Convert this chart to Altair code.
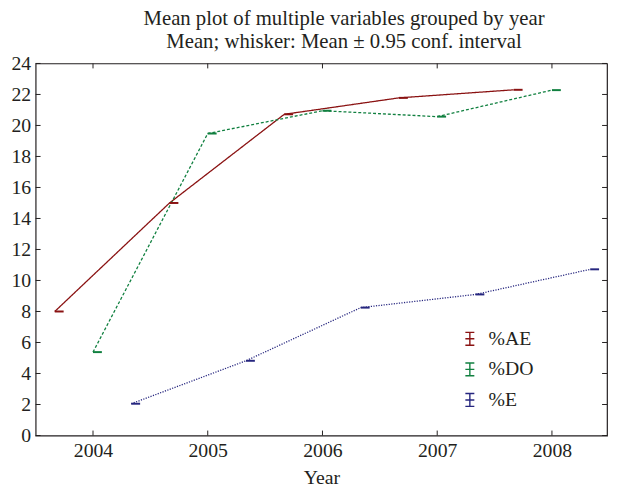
import altair as alt
import pandas as pd

# ---- data ----
years = [2004, 2005, 2006, 2007, 2008]
series = ["%AE", "%DO", "%E"]
offsets = [-1 / 3, 0.0, 1 / 3]          # horizontal offset of each variable within a year
ae = [8.0, 15.0, 20.72, 21.78, 22.3]
do = [5.38, 19.48, 20.95, 20.57, 22.28]
e = [2.05, 4.82, 8.25, 9.1, 10.72]
colors = ["#8a1212", "#118040", "#26267f"]
dashes = [[1, 0], [3, 2], [1.2, 1.4]]

xticks = [2004, 2005, 2006, 2007, 2008]
yticks = list(range(0, 25, 2))

rows = []
for name, off, vals in zip(series, offsets, [ae, do, e]):
    for yr, v in zip(years, vals):
        rows.append({"series": name, "x": yr + off, "y": v})
df = pd.DataFrame(rows)

W, H = 579, 377
FONT = "Liberation Serif"
TXT = "#231f20"

xscale = alt.Scale(domain=[2003.5, 2008.48], nice=False, zero=False)
yscale = alt.Scale(domain=[0, 24], nice=False, zero=True)
cscale = alt.Scale(domain=series, range=colors)

xaxis = alt.Axis(values=xticks, format="d", title="Year", ticks=False, domain=False,
                 grid=False, labelPadding=5, titlePadding=8, labelOverlap=False)
yaxis = alt.Axis(values=yticks, title=None, ticks=False, domain=False, grid=False,
                 labelPadding=5, labelOverlap=False)

line_layers = []
for name, d, col in zip(series, dashes, colors):
    line_layers.append(
        alt.Chart(df).transform_filter(alt.datum.series == name)
        .mark_line(strokeWidth=1.3, strokeDash=d, color=col).encode(
            x=alt.X("x:Q", scale=xscale, axis=xaxis),
            y=alt.Y("y:Q", scale=yscale, axis=yaxis),
        )
    )

caps = alt.Chart(df).mark_rule(strokeWidth=2, x2Offset=9).encode(
    x=alt.X("x:Q", scale=xscale, axis=xaxis),
    x2=alt.X2("x"),
    y=alt.Y("y:Q", scale=yscale, axis=yaxis),
    y2=alt.Y2("y"),
    color=alt.Color("series:N", scale=cscale,
                    legend=alt.Legend(title=None, orient="none", legendX=430, legendY=269,
                                      symbolType="M-0.7,-1H0.7M0,-1V1M-0.7,1H0.7M-0.7,0H0.7",
                                      symbolSize=169, symbolStrokeWidth=1.4,
                                      symbolFillColor="transparent",
                                      labelFont=FONT, labelFontSize=20, labelColor=TXT,
                                      labelOffset=9, rowPadding=11)),
)

xt = pd.DataFrame({"t": xticks})
yt = pd.DataFrame({"t": yticks})
tick_style = dict(color="#231f20", strokeWidth=1)
bot = alt.Chart(xt).mark_rule(**tick_style).encode(
    x=alt.X("t:Q", scale=xscale, axis=xaxis), y=alt.value(H), y2=alt.value(H - 5))
top = alt.Chart(xt).mark_rule(**tick_style).encode(
    x=alt.X("t:Q", scale=xscale, axis=xaxis), y=alt.value(0), y2=alt.value(5))
left = alt.Chart(yt).mark_rule(**tick_style).encode(
    y=alt.Y("t:Q", scale=yscale, axis=yaxis), x=alt.value(0), x2=alt.value(5))
right = alt.Chart(yt).mark_rule(**tick_style).encode(
    y=alt.Y("t:Q", scale=yscale, axis=yaxis), x=alt.value(W), x2=alt.value(W - 5))

chart = alt.layer(*line_layers, caps, bot, top, left, right).properties(
    width=W, height=H,
    title=alt.TitleParams(
        text=["Mean plot of multiple variables grouped by year",
              "Mean; whisker: Mean \u00b1 0.95 conf. interval"],
        font=FONT, fontSize=21, fontWeight="normal", color=TXT,
        anchor="middle", dx=23, lineHeight=23, offset=2),
    autosize=alt.AutoSizeParams(type="none"),
    padding={"left": 28, "top": 53, "right": 2, "bottom": 50},
).configure_view(
    stroke="#231f20", strokeWidth=1.2
).configure_axis(
    labelFont=FONT, labelFontSize=20, labelColor=TXT,
    titleFont=FONT, titleFontSize=20, titleColor=TXT, titleFontWeight="normal",
)

chart.save("out.html", embed_options={"renderer": "svg", "actions": False})
